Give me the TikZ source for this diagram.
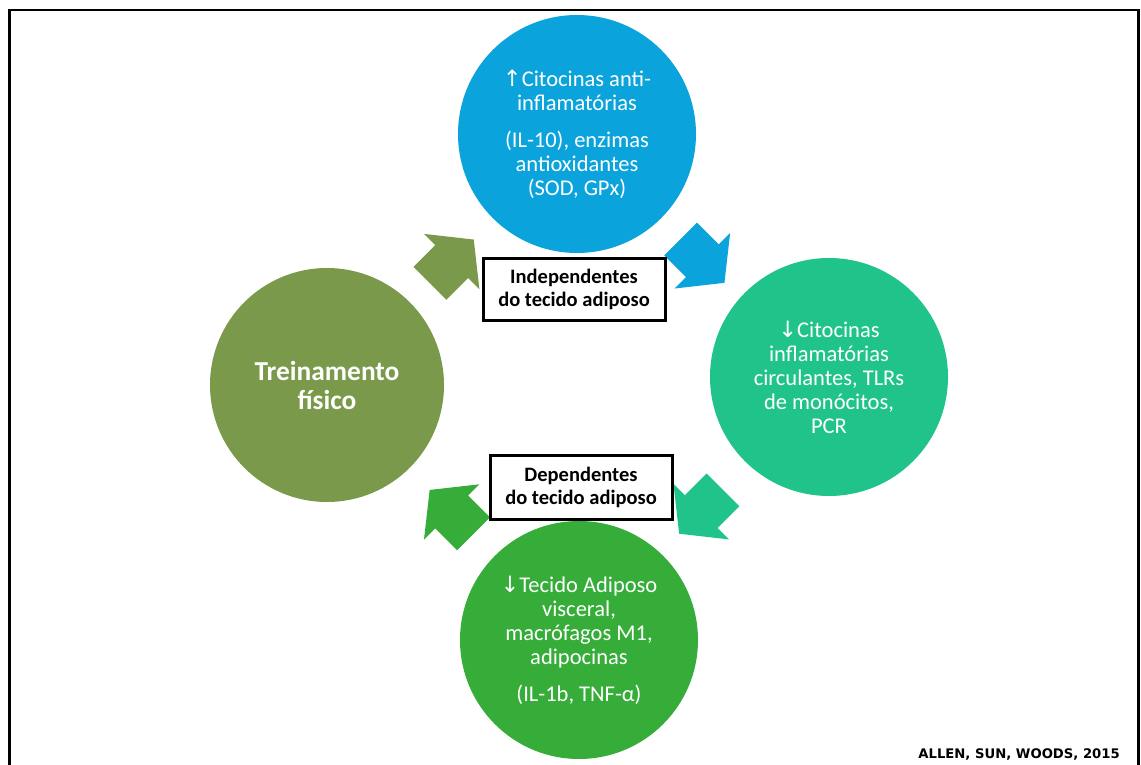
\documentclass[tikz,border=0pt]{standalone}
\usepackage{fontspec}
\setmainfont{Carlito}
\newfontfamily\symbfont{DejaVu Sans}
\usepackage{tikz}
\usetikzlibrary{shapes.arrows, positioning}
\definecolor{topblue}{RGB}{11,163,219}
\definecolor{sidegreen}{RGB}{32,196,138}
\definecolor{lowgreen}{RGB}{53,173,56}
\definecolor{olive}{RGB}{122,153,74}
\tikzset{
	circ/.style={circle, minimum size=238pt, inner sep=0pt, text=white, align=center, font=\fontsize{22.5}{24}\selectfont}, % the four round blocks
	labelbox/.style={draw=black, line width=3pt, fill=white, minimum width=182pt, minimum height=62pt, align=center, font=\fontsize{20.5}{23}\selectfont\bfseries}, % the two boxes
	fatarrow/.style={single arrow, minimum height=62pt, minimum width=78pt, inner xsep=0pt, inner ysep=23pt, single arrow head extend=16pt, single arrow tip angle=103}, % thick block arrows
}
\newcommand{\up}{{\symbfont\char"2191}}
\newcommand{\down}{{\symbfont\char"2193}}

\begin{document}
\begin{tikzpicture}[x=1pt, y=-1pt]
        \useasboundingbox (0,0) rectangle (1141,765);
        % outer frame, open at the bottom
        \draw[line width=2.5pt] (9.5,766) |- (1138.5,10) -- (1138.5,766);

        % Nodes arranged in a circle
        \node[circ, fill=topblue] (antiinfl) at (577,134)
            {\up Citocinas anti-\\inflamatórias\\[13pt](IL-10), enzimas\\antioxidantes\\(SOD, GPx)};
        \node[circ, fill=sidegreen] (circul) at (829,377)
            {\down Citocinas\\inflamatórias\\circulantes, TLRs\\de monócitos,\\PCR};
        \node[circ, fill=lowgreen] (adiposo) at (579,640)
            {\down Tecido Adiposo\\visceral,\\macrófagos M1,\\adipocinas\\[13pt](IL-1b, TNF-α)};
        \node[circ, fill=olive, minimum size=234pt, font=\fontsize{27.4}{29}\selectfont\bfseries] (treino) at (327,385)
            {Treinamento\\físico};

        % Block arrows going round
        \node[fatarrow, fill=olive, rotate=45] (a1) at (445.3,268) {};
        \node[fatarrow, fill=topblue, rotate=-45] (a2) at (696,254.4) {};
        \node[fatarrow, fill=sidegreen, rotate=-135] (a3) at (707.6,505.3) {};
        \node[fatarrow, fill=lowgreen, rotate=135] (a4) at (458.1,518.4) {};

        % Boxes
        \node[labelbox] (indep) at (574,289) {Independentes\\do tecido adiposo};
        \node[labelbox, minimum height=64pt] (dep) at (581,487) {Dependentes\\do tecido adiposo};

        \node[anchor=base east, font=\symbfont\bfseries\fontsize{13.2}{15}\selectfont, inner sep=0pt] (ref) at (1120,758) {ALLEN, SUN, WOODS, 2015};
    \end{tikzpicture}
\end{document}
